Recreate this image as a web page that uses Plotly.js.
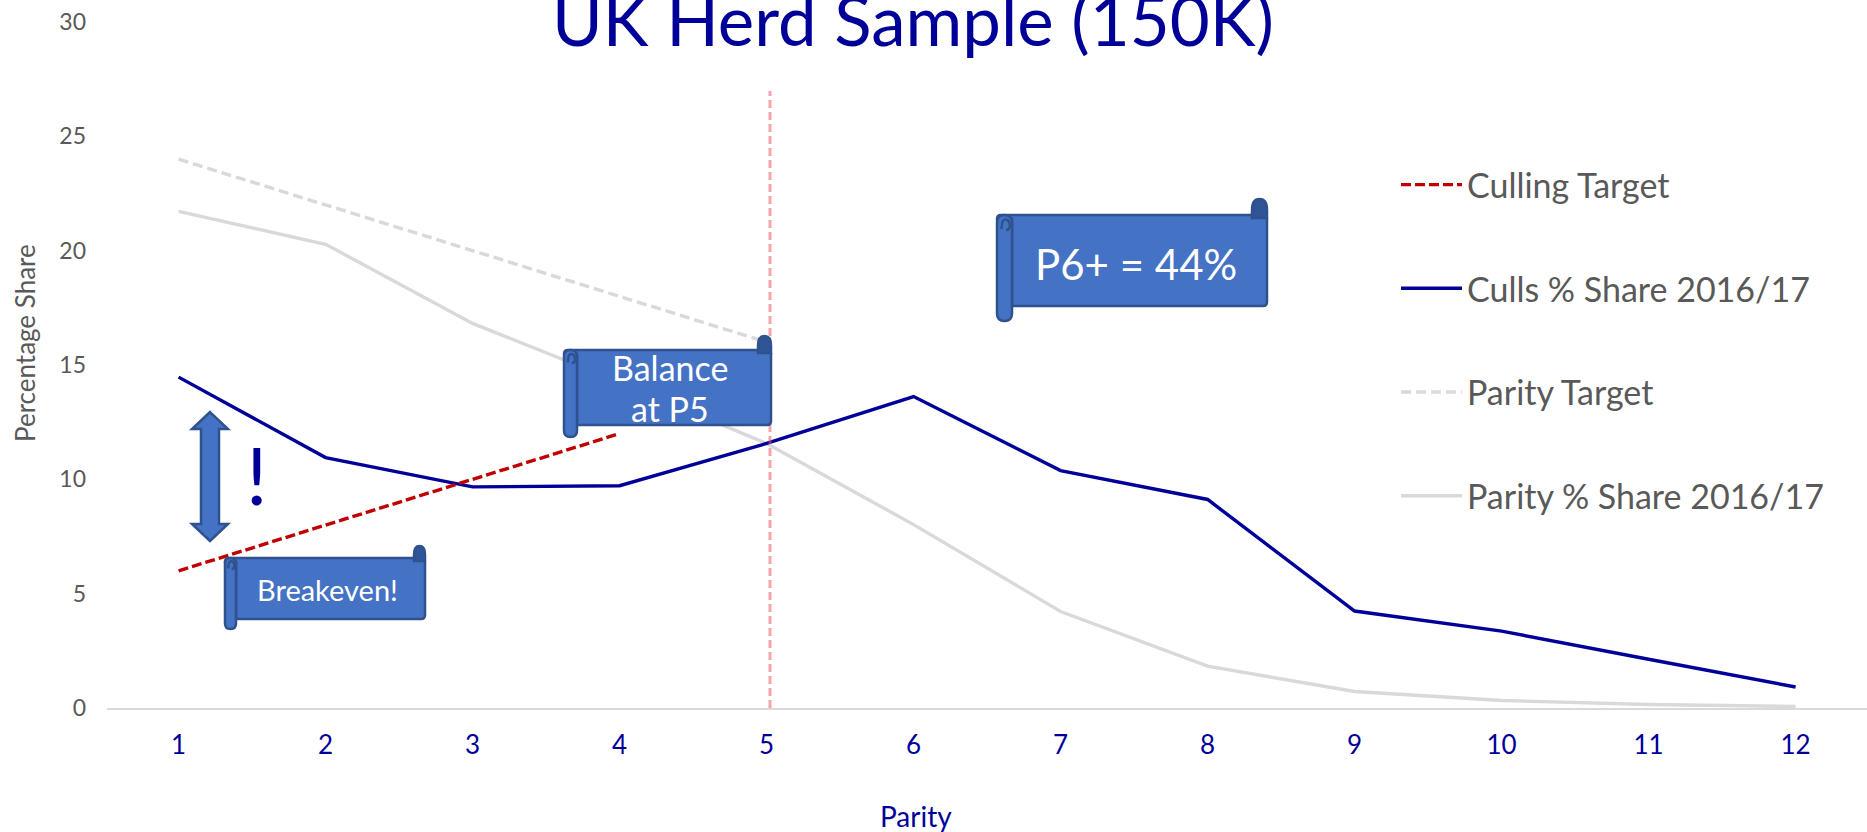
<!DOCTYPE html>
<html><head><meta charset="utf-8">
<script src="https://cdn.plot.ly/plotly-3.0.1.min.js"></script>
<style>html,body{margin:0;padding:0;background:#fff;overflow:hidden}#c{width:1867px;height:832px}</style>
</head><body><div id="c"></div>
<script>
const parity = [1,2,3,4,5,6,7,8,9,10,11,12];
const cullingTarget = [6,8,10,12];
const cullsShare = [14.47,10.95,9.67,9.72,11.57,13.62,10.38,9.12,4.24,3.36,2.13,0.92];
const parityTarget = [24,22,20,18,16];
const parityShare = [21.72,20.28,16.82,14.25,11.57,8.02,4.22,1.83,0.72,0.33,0.15,0.07];
const FONT = 'Lato, "Noto Sans", sans-serif';
const NAVY = '#000099', GREY = '#595959', LIGHT = '#D9D9D9', RED = '#C00000';
const BLUE = '#4472C4', EDGE = '#2F528F', KNOB = '#2F5597';

// picture position -> axis value, for the callouts drawn on top of the chart
const X = px => 1 + (px - 178.6) / 147;
const Y = py => (708 - py) / 22.87;
const PX = px => (px - 107) / 1760;
const PY = py => (708 - py) / 686;
const P = (cmd, x, y) => cmd + X(x) + ',' + Y(y);
const pathOf = (pts, close = true) => pts.map(p => p[0] === 'Q'
  ? 'Q' + X(p[1]) + ',' + Y(p[2]) + ' ' + X(p[3]) + ',' + Y(p[4])
  : P(p[0], p[1], p[2])).join(' ') + (close ? ' Z' : '');
const shp = (pts, fill, close = true) => ({type:'path', xref:'x', yref:'y', layer:'above', path:pathOf(pts, close),
  fillcolor: fill, line:{color:EDGE, width:2.5}});

function scroll(L, T, R, B, w, knobH, tail) {
  const r = 4;
  const body = [['M',L+r,T],['L',R-r,T],['Q',R,T,R,T+r],['L',R,B-r],['Q',R,B,R-r,B],['L',L+w,B],['L',L+w,T+r],['L',L,T+r],['Q',L,T,L+r,T]];
  const roll = [['M',L,T+w/2],['Q',L,T,L+w/2,T],['Q',L+w,T,L+w,T+w/2],['L',L+w,B+tail-w/2],['Q',L+w,B+tail,L+w/2,B+tail],['Q',L,B+tail,L,B+tail-w/2]];
  const knob = [['M',R-w,T+3],['L',R-w,T-knobH*0.3],['Q',R-w,T-knobH,R-w/2,T-knobH],['Q',R,T-knobH,R,T-knobH*0.3],['L',R,T+3]];
  const curl = [['M',L+w*0.3,T+w*0.95],['Q',L+w*0.3,T+w*0.3,L+w*0.55,T+w*0.3],['Q',L+w*0.85,T+w*0.3,L+w*0.85,T+w*0.7],['Q',L+w*0.85,T+w,L+w*0.6,T+w]];
  return [shp(body,BLUE), shp(roll,BLUE), shp(knob,KNOB), shp(curl,'rgba(0,0,0,0)',false)];
}
function doubleArrow(cx, top, bot, hw, sw, hl) {
  return shp([['M',cx,top],['L',cx+hw,top+hl],['L',cx+sw,top+hl],['L',cx+sw,bot-hl],['L',cx+hw,bot-hl],['L',cx,bot],
    ['L',cx-hw,bot-hl],['L',cx-sw,bot-hl],['L',cx-sw,top+hl],['L',cx-hw,top+hl]], BLUE);
}
const callouts = [
  {text:'P6+ = 44%', px:1136, py:264, size:42},
  {text:'Balance', px:670, py:367, size:34},
  {text:'at P5', px:670, py:408, size:34},
  {text:'Breakeven!', px:327, py:589, size:29}
];
const line = (name, y, color, dash, rank) => ({type:'scatter', mode:'lines', name, x:parity.slice(0,y.length), y,
  legendrank:rank, legendgroup:name, line:{color, width:3.4, dash, shape:'linear'}, hoverinfo:'x+y+name'});
const traces = [
  line('Parity % Share 2016/17', parityShare, LIGHT, 'solid', 4),
  line('Parity Target', parityTarget, LIGHT, '10px,5px', 3),
  line('Culls % Share 2016/17', cullsShare, NAVY, 'solid', 2),
  line('Culling Target', cullingTarget, RED, '10px,4px', 1)
];
const layout = {
  width:1867, height:832, showlegend:true, paper_bgcolor:'#fff', plot_bgcolor:'#fff',
  font:{family:FONT, color:GREY},
  margin:{l:107, r:0, t:22, b:124, pad:0, autoexpand:false},
  title:{text:'UK Herd Sample (150K)', font:{family:FONT, size:69, color:NAVY}, x:913/1867, xanchor:'center', y:1-46/832, yanchor:'bottom', yref:'container'},
  xaxis:{range:[X(107),X(1867)], tickmode:'array', tickvals:parity, ticktext:parity.map(String), showgrid:false, zeroline:false,
    showline:true, linecolor:LIGHT, linewidth:2, ticks:'', tickfont:{size:26, color:NAVY}, ticklabelstandoff:13},
  yaxis:{range:[0,30], tick0:0, dtick:5, showgrid:false, zeroline:false, showline:false, ticks:'', tickfont:{size:23, color:GREY}, ticklabelstandoff:20},
  legend:{x:(1396-107)/1760, xanchor:'left', y:1-(156-22)/686, yanchor:'top', font:{size:34, color:GREY}, itemwidth:61,
    tracegroupgap:56.5, traceorder:'grouped', bgcolor:'rgba(0,0,0,0)', itemclick:false, itemdoubleclick:false},
  shapes:[
    {type:'line', xref:'x', yref:'y', x0:X(770), x1:X(770), y0:0, y1:Y(91), layer:'above', line:{color:'rgba(235,90,100,0.55)', width:3, dash:'8px,4px'}},
    ...scroll(997,215,1267,306,15,16,15),
    ...scroll(564,350,771,425,13,14,12),
    ...scroll(225,558,425,619,11,12,10),
    doubleArrow(210,412,541,18,9,17)
  ],
  annotations:[
    ...callouts.map(c => ({text:c.text, x:X(c.px), y:Y(c.py), xref:'x', yref:'y', xanchor:'center', yanchor:'middle', showarrow:false, font:{family:FONT, size:c.size, color:'#fff'}, align:'center'})),
    {text:'!', x:X(257), y:Y(474), xref:'x', yref:'y', xanchor:'center', yanchor:'middle', showarrow:false, font:{family:FONT, size:80, color:NAVY}},
    {text:'Parity', x:PX(916), y:PY(816), xref:'paper', yref:'paper', xanchor:'center', yanchor:'middle', showarrow:false, font:{family:FONT, size:28, color:NAVY}},
    {text:'Percentage Share', x:PX(25), y:PY(343), xref:'paper', yref:'paper', xanchor:'center', yanchor:'middle', textangle:-90, showarrow:false, font:{family:FONT, size:26, color:GREY}}
  ]
};
Plotly.newPlot('c', traces, layout, {displayModeBar:false, responsive:false});
</script></body></html>
